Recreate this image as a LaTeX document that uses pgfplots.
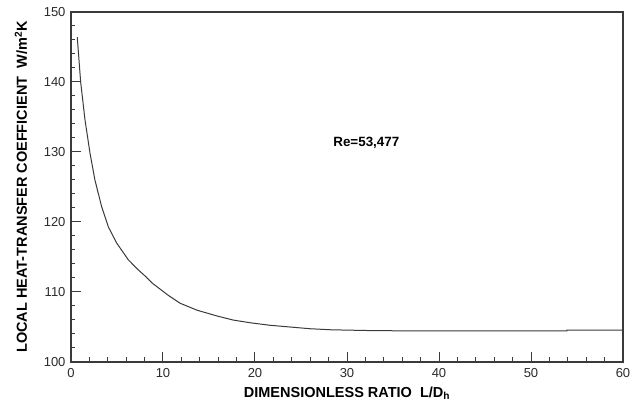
\documentclass[border=0pt]{standalone}
\usepackage{pgfplots}
\pgfplotsset{compat=1.18}
\usepackage{fontspec}
\setmainfont{Liberation Sans}

\definecolor{linegray}{HTML}{3A3A3A}
\definecolor{ticktext}{HTML}{2A2A2A}

\begin{document}
\begin{tikzpicture}
\begin{axis}[
  scale only axis,
  width=552pt, height=350pt,
  xmin=0, xmax=60, ymin=100, ymax=150,
  xtick={0,10,...,60}, ytick={100,110,...,150},
  minor x tick num=4, minor y tick num=4,
  xtick pos=left, ytick pos=left,
  tick align=inside,
  major tick length=10pt, minor tick length=4.5pt,
  axis line style={linegray, line width=1.1pt},
  every tick/.style={linegray, line width=1pt},
  /pgf/number format/assume math mode=true,
  ticklabel style={font=\fontsize{13}{15}\selectfont, text=ticktext},
  xticklabel style={yshift=-2.5pt},
  yticklabel style={xshift=-2pt},
  xlabel={DIMENSIONLESS RATIO\ \ L/D\textsubscript{h}},
  ylabel={LOCAL HEAT-TRANSFER COEFFICIENT\ \ W/m\textsuperscript{2}K},
  label style={font=\fontsize{14.5}{17}\bfseries},
  xlabel style={at={(axis description cs:0.5,-0.0886)}, anchor=center},
  ylabel style={at={(axis description cs:-0.0906,0.5)}, anchor=center},
]
\addplot[linegray, line width=1pt] coordinates {
  (0.68,146.4) (1.05,140.0) (1.52,134.6) (2.07,129.8) (2.6,126.0)
  (3.33,122.2) (4.06,119.3) (4.96,117.0) (6.23,114.6) (7.2,113.3)
  (8.04,112.3) (8.8,111.3) (9.5,110.6) (10.6,109.5) (11.85,108.4)
  (13.7,107.4) (15.8,106.6) (17.6,106.0) (19.5,105.6) (21.6,105.25)
  (23.8,105.0) (26.0,104.75) (28.3,104.6) (32.1,104.5) (36,104.45)
  (53.9,104.45) (53.9,104.55) (60,104.55)
};
\node[font=\fontsize{13.4}{15}\bfseries] at (axis cs:32.1,131.3) {Re=53,477};
\end{axis}
\pgfresetboundingbox
\path (-71pt,-42pt) rectangle (559pt,362pt);
\end{tikzpicture}
\end{document}
